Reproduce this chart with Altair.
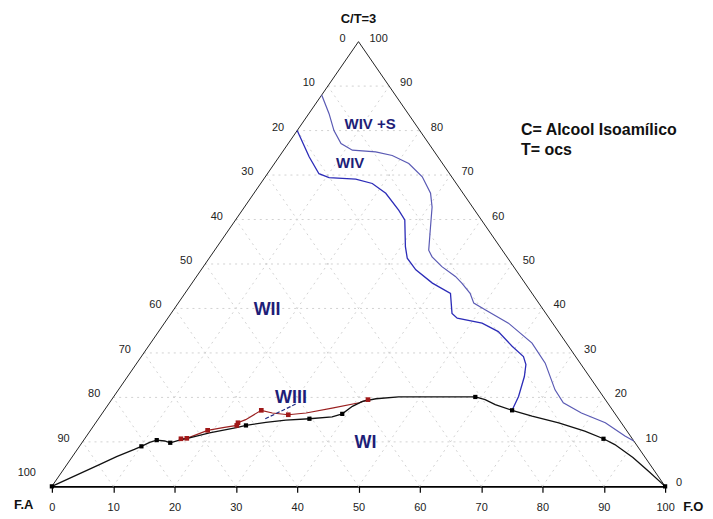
import altair as alt
import pandas as pd

# ---------------- data (compositions: F.O %, C/T %) ----------------
outer_fo = [0, 3.3, 6.0, 8.6, 11.2, 15.2, 18.3, 21.9, 25.6, 28.8, 30.6, 32.9, 34.9, 36.2, 38.9,
            42.2, 44.0, 46.5, 48.2, 50.8, 56.1, 62.2, 66.6, 71.2, 74.0, 78.1, 83.1, 87.8, 89.8]
outer_ct = [88.0, 83.8, 80.0, 77.1, 75.6, 75.2, 74.4, 72.6, 69.6, 65.9, 62.8, 57.6, 53.1, 51.6, 49.4,
            47.2, 45.7, 43.4, 41.2, 39.7, 36.7, 32.2, 27.7, 21.7, 18.8, 16.5, 14.3, 11.3, 10.2]

inner_fo = [0, 1.5, 4.9, 8.4, 10.5, 15.0, 18.2, 21.5, 25.5, 27.6, 30.7, 32.3, 35.0, 39.2, 43.3,
            45.8, 47.2, 51.8, 55.4, 59.3, 62.3, 63.6, 64.7, 66.0, 66.5]
inner_ct = [80.0, 78.2, 74.1, 70.3, 69.4, 69.1, 68.1, 65.9, 62.1, 59.9, 53.9, 51.3, 48.7, 45.7, 43.4,
            38.9, 37.8, 36.7, 34.8, 31.5, 29.2, 27.4, 24.7, 20.2, 17.1]

black_fo = [0, 5.3, 7.2, 9.3, 10.1, 11.0, 11.9, 13.3, 14.4, 15.6, 17.0, 19.7, 23.5, 24.8, 27.7, 30.7,
            34.4, 37.9, 39.2, 40.0, 41.1, 43.0, 46.5, 59.0, 60.9, 63.1, 66.5, 70.4, 75.5, 80.7, 84.6,
            87.1, 91.5, 95.6, 100]
black_ct = [0, 4.9, 6.7, 8.3, 9.0, 9.9, 10.4, 10.2, 9.8, 10.4, 10.9, 12.0, 13.2, 13.7, 14.4, 14.9,
            15.2, 15.6, 16.3, 18.0, 19.1, 19.7, 20.1, 20.1, 19.5, 18.4, 17.1, 15.8, 14.3, 12.4, 10.7,
            9.4, 6.5, 3.4, 0]
black_marks = [0, 4, 6, 8, 13, 16, 18, 23, 26, 30, 34]

red_fo = [15.7, 16.6, 19.1, 21.3, 23.3, 23.2, 24.1, 25.6, 27.7, 30.5, 33.2, 36.9, 40.7, 41.8]
red_ct = [10.7, 10.8, 12.6, 13.2, 13.7, 14.3, 15.0, 17.1, 16.5, 16.1, 16.5, 17.6, 18.8, 19.5]
red_marks = [0, 1, 2, 4, 5, 7, 9, 13]

pointer_fo = [27.2, 30.5]
pointer_ct = [15.2, 18.5]

region_names = ["WIV +S", "WIV", "WII", "WIII", "WI"]
region_fo = [11.7, 12.9, 15.8, 29.6, 46.8]
region_ct = [80.4, 71.5, 38.6, 18.8, 8.7]
region_size = [15, 15, 18, 18, 18]

tick_values = list(range(0, 101, 10))


def tern(fo, ct):
    return [f + c / 2.0 for f, c in zip(fo, ct)], list(ct)


def line_df(fo, ct):
    x, y = tern(fo, ct)
    return pd.DataFrame({"x": x, "y": y, "i": range(len(x))})


# grid lines (three families)
grid_rows = []
gid = 0
for k in tick_values[1:-1]:
    for (f0, c0), (f1, c1) in [((0, k), (100 - k, k)),          # C/T = k
                               ((k, 0), (k, 100 - k)),          # F.O = k
                               ((100 - k, 0), (0, 100 - k))]:   # F.A = k
        for j, (f, c) in enumerate([(f0, c0), (f1, c1)]):
            grid_rows.append({"g": gid, "i": j, "x": f + c / 2.0, "y": c})
        gid += 1
grid_df = pd.DataFrame(grid_rows)

edge_rows = []
for g, pts in enumerate([[(0, 0), (0, 100)], [(100, 0), (0, 100)]]):
    for j, (f, c) in enumerate(pts):
        edge_rows.append({"g": g, "i": j, "x": f + c / 2.0, "y": c})
edge_df = pd.DataFrame(edge_rows)

# edge tick labels
left_df = pd.DataFrame({"t": [str(v) for v in tick_values[:-1]],
                        "x": [(100 - v) / 2.0 for v in tick_values[:-1]],
                        "y": [100 - v for v in tick_values[:-1]]})
left_corner_df = pd.DataFrame({"t": ["100"], "x": [0.0], "y": [0.0]})
right_df = pd.DataFrame({"t": [str(v) for v in tick_values],
                         "x": [100 - v / 2.0 for v in tick_values],
                         "y": tick_values})

rx, ry = tern(region_fo, region_ct)
region_df = pd.DataFrame({"t": region_names, "x": rx, "y": ry, "s": region_size})

# ---------------- chart ----------------
xs = alt.Scale(domain=[0, 100], nice=False, zero=False)
ys = alt.Scale(domain=[0, 100], nice=False, zero=False)
xax = alt.Axis(values=tick_values, tickSize=6, tickColor="black", domainColor="black",
               domainWidth=1.6, tickWidth=1.2, labelFontSize=11, labelFont="Liberation Sans",
               labelColor="#222222", labelPadding=9, labelFlush=False, grid=False)

FONT = "Liberation Sans"


def XY():
    return dict(x=alt.X("x:Q", scale=xs, axis=xax, title=None),
                y=alt.Y("y:Q", scale=ys, axis=None, title=None))


grid = alt.Chart(grid_df).mark_line(color="#d2d2d2", strokeWidth=1, strokeDash=[2, 4]).encode(
    detail="g:N", order="i:Q", **XY())
edges = alt.Chart(edge_df).mark_line(color="#222222", strokeWidth=1).encode(
    detail="g:N", order="i:Q", **XY())

outer = alt.Chart(line_df(outer_fo, outer_ct)).mark_line(color="#5a5ab4", strokeWidth=1.2).encode(
    order="i:Q", **XY())
inner = alt.Chart(line_df(inner_fo, inner_ct)).mark_line(color="#2c2cb8", strokeWidth=1.3).encode(
    order="i:Q", **XY())
black_df = line_df(black_fo, black_ct)
black = alt.Chart(black_df).mark_line(color="#111111", strokeWidth=1.3).encode(order="i:Q", **XY())
black_pts = alt.Chart(black_df.iloc[black_marks]).mark_square(color="#000000", size=18, opacity=1).encode(**XY())
red_df = line_df(red_fo, red_ct)
red = alt.Chart(red_df).mark_line(color="#9a2020", strokeWidth=1.2).encode(order="i:Q", **XY())
red_pts = alt.Chart(red_df.iloc[red_marks]).mark_square(color="#a01818", size=22, opacity=1).encode(**XY())
pointer = alt.Chart(line_df(pointer_fo, pointer_ct)).mark_line(
    color="#1f2a80", strokeWidth=1.2, strokeDash=[4, 2]).encode(order="i:Q", **XY())

left_lab = alt.Chart(left_df).mark_text(align="right", baseline="middle", dx=-13, dy=-3,
                                        font=FONT, fontSize=11, color="#222222").encode(text="t:N", **XY())
left_corner = alt.Chart(left_corner_df).mark_text(align="right", baseline="middle", dx=-16, dy=-13,
                                                  font=FONT, fontSize=11, color="#222222").encode(text="t:N", **XY())
right_lab = alt.Chart(right_df).mark_text(align="left", baseline="middle", dx=11, dy=-3,
                                          font=FONT, fontSize=11, color="#222222").encode(text="t:N", **XY())

regions = alt.Chart(region_df).mark_text(align="center", baseline="alphabetic", font=FONT,
                                         fontWeight="bold", color="#1e1e78").encode(
    text="t:N", size=alt.Size("s:Q", scale=None, legend=None), **XY())

# annotations outside the triangle (plot coordinates)
ann_text = ["C/T=3", "F.A", "F.O"]
ann_x = [50.0, -4.6, 104.6]
ann_y = [105.0, -4.2, -4.6]
ann_df = pd.DataFrame({"t": ann_text, "x": ann_x, "y": ann_y})
ann = alt.Chart(ann_df).mark_text(align="center", baseline="middle", font=FONT, fontSize=13,
                                  fontWeight="bold", color="#111111").encode(text="t:N", **XY())

legend_text = ["C= Alcool Isoamílico", "T= ocs"]
legend_x = [76.5, 76.5]
legend_y = [78.9, 74.6]
leg_df = pd.DataFrame({"t": legend_text, "x": legend_x, "y": legend_y})
leg = alt.Chart(leg_df).mark_text(align="left", baseline="alphabetic", font=FONT, fontSize=16,
                                  fontWeight="bold", color="#111111").encode(text="t:N", **XY())

chart = alt.layer(grid, edges, outer, inner, red, black, pointer, black_pts, red_pts,
                  left_lab, left_corner, right_lab, regions, ann, leg).properties(
    width=615, height=446,
    autosize=alt.AutoSizeParams(type="none"),
    padding={"left": 44, "top": 33, "right": 40, "bottom": 28},
    background="white",
).configure_view(stroke=None)

chart.save("out.html", embed_options={"renderer": "svg", "actions": False})
